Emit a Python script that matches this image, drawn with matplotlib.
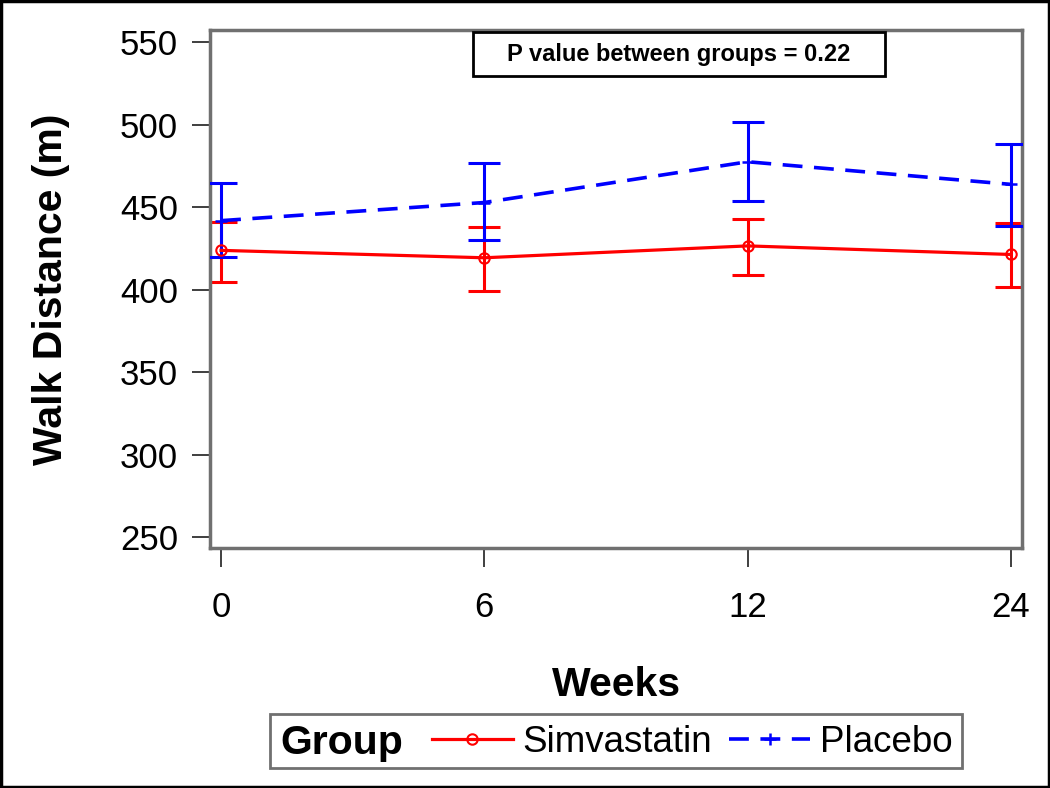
import matplotlib.pyplot as plt
from matplotlib.patches import Rectangle

weeks = ["0", "6", "12", "24"]

simva_mean = [424, 419.5, 426.7, 421.5]
simva_upper = [441, 438, 443, 440.5]
simva_lower = [405, 399.6, 409, 401.6]

placebo_mean = [442, 453, 477.7, 464]
placebo_upper = [465, 477, 502, 488.7]
placebo_lower = [420, 430, 454, 439]

plt.rcParams["font.family"] = ["Liberation Sans", "DejaVu Sans"]

RED = "#ff0000"
BLUE = "#0000ff"
GRAY = "#707070"

fig = plt.figure(figsize=(10.5, 7.88), dpi=100)
ax = fig.add_axes([0.2, 0.3046, 0.7733, 0.6574])

x = list(range(len(weeks)))

sim_err = [
    [m - lo for m, lo in zip(simva_mean, simva_lower)],
    [hi - m for m, hi in zip(simva_mean, simva_upper)],
]
pla_err = [
    [m - lo for m, lo in zip(placebo_mean, placebo_lower)],
    [hi - m for m, hi in zip(placebo_mean, placebo_upper)],
]

ax.errorbar(x, simva_mean, yerr=sim_err, fmt="none", ecolor=RED,
            elinewidth=2.2, capsize=11.5, capthick=2.2, zorder=2)
ax.errorbar(x, placebo_mean, yerr=pla_err, fmt="none", ecolor=BLUE,
            elinewidth=2.2, capsize=11.5, capthick=2.2, zorder=3)

(sim_line,) = ax.plot(x, simva_mean, color=RED, lw=2.3, marker="o",
                      markersize=7.5, markerfacecolor="none",
                      markeredgewidth=1.5, label="Simvastatin", zorder=4)
(pla_line,) = ax.plot(x, placebo_mean, color=BLUE, lw=2.6,
                      linestyle=(0, (5.5, 3.2)), marker="+", markersize=9,
                      markeredgewidth=1.8, label="Placebo", zorder=5)

ax.set_xlim(-0.042, 3.042)
ax.set_ylim(243.6, 557.6)
ax.set_xticks(x)
ax.set_xticklabels(weeks)
ax.set_yticks([250, 300, 350, 400, 450, 500, 550])

for s in ax.spines.values():
    s.set_color(GRAY)
    s.set_linewidth(2.5)
ax.tick_params(axis="both", direction="out", width=1.3,
               color="#303030", labelsize=25, labelcolor="black")
ax.tick_params(axis="x", length=14, pad=17)
ax.tick_params(axis="y", length=13, pad=10)

ax.set_xlabel("Weeks", fontsize=29.5, fontweight="bold", labelpad=30)
ax.set_ylabel("Walk Distance (m)", fontsize=29.5, fontweight="bold",
              labelpad=36)

# p value box
fig.patches.append(Rectangle((473 / 1050, 1 - 76 / 788), 412 / 1050,
                             44 / 788, transform=fig.transFigure,
                             facecolor="white", edgecolor="black", lw=2,
                             zorder=10))
fig.text(679 / 1050, 1 - 54 / 788, "P value between groups = 0.22",
         fontsize=17, fontweight="bold", ha="center", va="center",
         zorder=11)

# legend box with "Group" title on the left
fig.patches.append(Rectangle((270 / 1050, 1 - 768 / 788), 692 / 1050,
                             54 / 788, transform=fig.transFigure,
                             facecolor="white", edgecolor=GRAY, lw=2))
fig.text(280 / 1050, 1 - 743 / 788, "Group", fontsize=29.5,
         fontweight="bold", ha="left", va="center")
fig.legend(handles=[sim_line, pla_line], loc="center left",
           bbox_to_anchor=(406 / 1050, 1 - 742 / 788), ncol=2,
           frameon=False, fontsize=26.5, handlelength=2.2,
           handletextpad=0.27, columnspacing=0.46, borderpad=0.2)

# outer border
fig.patches.append(Rectangle((0.001, 0.001), 0.998, 0.998,
                             transform=fig.transFigure, facecolor="none",
                             edgecolor="black", lw=2.5))

fig.savefig("out.png", dpi=100)
